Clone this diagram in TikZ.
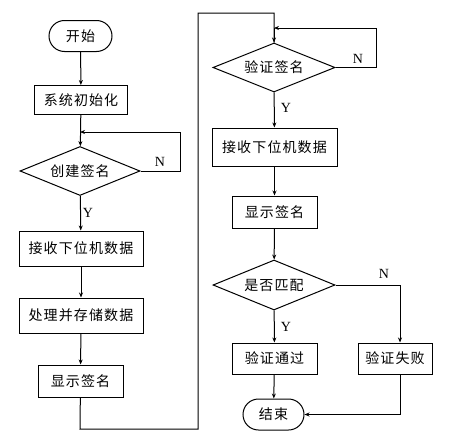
\documentclass[tikz,border=0pt]{standalone}
\usepackage{fontspec}
\setmainfont{Liberation Serif}
\newfontfamily\cjk[LetterSpace=8]{Noto Sans CJK SC}
\usetikzlibrary{shapes.geometric,shapes.misc,arrows.meta}

\begin{document}
\begin{tikzpicture}[x=1pt,y=-1pt,
    box/.style={draw,line width=1pt,inner sep=0pt,
      font=\cjk\fontsize{14}{16}\selectfont},
    term/.style={box,rounded rectangle},
    decide/.style={box,diamond,aspect=2.4},
    line/.style={line width=1pt},
    arr/.style={line,-{Stealth[length=5pt,width=4pt]}},
    yn/.style={font=\fontsize{14}{16}\selectfont}]
    \useasboundingbox (0,0) rectangle (450,447);
    % left column
    \node[term,minimum width=63pt,minimum height=31pt] (start) at (80.5,36) {开始};
    \node[box,minimum width=93pt,minimum height=29pt] (init) at (81,100) {系统初始化};
    \node[decide,minimum width=120pt,minimum height=49pt] (create) at (80,171) {创建签名};
    \node[box,minimum width=124pt,minimum height=35pt] (recv1) at (81,248.5) {接收下位机数据};
    \node[box,minimum width=124pt,minimum height=35pt] (store) at (81,315.5) {处理并存储数据};
    \node[box,minimum width=85pt,minimum height=32pt] (show1) at (80.5,381) {显示签名};
    % right column
    \node[decide,minimum width=122pt,minimum height=49pt] (verify) at (274,67.5) {验证签名};
    \node[box,minimum width=125pt,minimum height=38pt] (recv2) at (274.5,147) {接收下位机数据};
    \node[box,minimum width=85pt,minimum height=32pt] (show2) at (274.5,212) {显示签名};
    \node[decide,minimum width=122pt,minimum height=50pt] (match) at (274,285) {是否匹配};
    \node[box,minimum width=85pt,minimum height=31pt] (pass) at (274.5,358.5) {验证通过};
    \node[box,minimum width=74pt,minimum height=31pt] (fail) at (395,358.5) {验证失败};
    \node[term,minimum width=61pt,minimum height=31pt] (end) at (273.5,414.5) {结束};
    % turning points
    \coordinate (cj) at (80,132);
    \coordinate (cr) at (180,171);
    \coordinate (vj) at (274,28);
    \coordinate (vr) at (376,67.5);
    \coordinate (lb) at (80,429);
    \coordinate (lt) at (198,13);
    \coordinate (fb) at (400,414.5);
    % connectors
    \draw[arr] (start) -- (init);
    \draw[arr] (init) -- (create);
    \draw[arr] (create.east) -- (cr) |- (cj);
    \draw[arr] (create) -- (recv1);
    \draw[arr] (recv1) -- (store);
    \draw[arr] (store) -- (show1);
    \draw[line] (show1) -- (lb) -| (lt) -| (verify.north);
    \draw[arr] (vj) -- (verify);
    \draw[arr] (verify.east) -- (vr) |- (vj);
    \draw[arr] (verify) -- (recv2);
    \draw[arr] (recv2) -- (show2);
    \draw[arr] (show2) -- (match);
    \draw[arr] (match) -- (pass);
    \draw[arr] (match.east) -| ([xshift=5pt]fail.north);
    \draw[arr] (pass) -- (end);
    \draw[arr] ([xshift=5pt]fail.south) -- (fb) -- (end.east);
    % labels
    \node[yn] (n1) at (160,162) {N};
    \node[yn] (y1) at (88,213) {Y};
    \node[yn] (n2) at (358,59) {N};
    \node[yn] (y2) at (286,108) {Y};
    \node[yn] (n3) at (384,274) {N};
    \node[yn] (y3) at (286,327) {Y};
\end{tikzpicture}
\end{document}
